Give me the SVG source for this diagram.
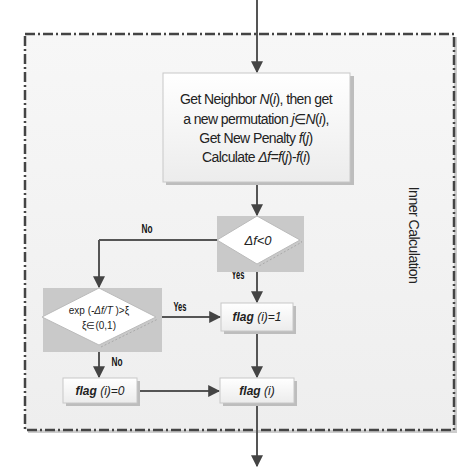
<svg xmlns="http://www.w3.org/2000/svg" width="461" height="468" viewBox="0 0 461 468">
<defs>
<linearGradient id="bg" x1="0" y1="0" x2="0" y2="1">
<stop offset="0" stop-color="#f7f7f7"/><stop offset="1" stop-color="#eeeeee"/>
</linearGradient>
<linearGradient id="boxg" x1="0" y1="0" x2="0" y2="1">
<stop offset="0" stop-color="#ffffff"/><stop offset="1" stop-color="#ececec"/>
</linearGradient>
<marker id="ah" viewBox="0 0 10 10" refX="9" refY="5" markerWidth="6" markerHeight="6" orient="auto" markerUnits="strokeWidth">
<path d="M0,0 L10,5 L0,10 z" fill="#444"/>
</marker>
</defs>
<style>
.t{font-family:"Liberation Sans",Arial,sans-serif;fill:#222;text-anchor:middle;dominant-baseline:central}
.m{font-size:14px;letter-spacing:-0.6px}
.i{font-style:italic}
.lb{font-size:12px;font-weight:bold;fill:#111}
.box{fill:url(#boxg);stroke:#c8c8c8;stroke-width:1}
.sh{fill:#bdbdbd}
.dia{fill:#ffffff;stroke:#bbbbbb;stroke-width:1}
.gr{fill:#c9c9c9}
.c{fill:none;stroke:#555;stroke-width:2;marker-end:url(#ah)}
.cl{fill:none;stroke:#555;stroke-width:2}
</style>
<rect width="461" height="468" fill="#ffffff"/>
<g id="frame">
<rect x="28" y="37" width="429" height="396" fill="#cccccc"/>
<rect x="25" y="34" width="429" height="396" fill="url(#bg)" stroke="#444" stroke-width="2.5" stroke-dasharray="10,3,2,3"/>
<text class="t" font-size="14" transform="translate(414,235) rotate(90)" letter-spacing="-0.5">Inner Calculation</text>
</g>
<g id="connectors">
<path class="c" d="M257,0 V72"/>
<path class="c" d="M257,183 V215"/>
<path class="cl" d="M217,240 H99"/>
<path class="c" d="M99,240 V287"/>
<path class="c" d="M257,265 V302"/>
<path class="c" d="M156,317 H220"/>
<path class="c" d="M99,346 V377"/>
<path class="c" d="M137,391 H219"/>
<path class="c" d="M257,332 V377"/>
<path class="c" d="M257,404 V466"/>
<text class="t lb" x="147" y="229" textLength="11" lengthAdjust="spacingAndGlyphs">No</text>
<text class="t lb" x="238" y="275" textLength="13" lengthAdjust="spacingAndGlyphs">Yes</text>
<text class="t lb" x="180" y="307" textLength="13" lengthAdjust="spacingAndGlyphs">Yes</text>
<text class="t lb" x="117" y="362" textLength="11" lengthAdjust="spacingAndGlyphs">No</text>
</g>
<g id="n1">
<rect class="sh" x="166" y="76" width="188" height="109"/>
<rect class="box" x="163" y="73" width="187" height="109"/>
<text class="t m" x="256" y="99">Get Neighbor <tspan class="i">N</tspan>(<tspan class="i">i</tspan>), then get</text>
<text class="t m" x="256" y="119">a new permutation <tspan class="i">j</tspan>∈<tspan class="i">N</tspan>(<tspan class="i">i</tspan>),</text>
<text class="t m" x="256" y="138">Get New Penalty <tspan class="i">f</tspan>(<tspan class="i">j</tspan>)</text>
<text class="t m" x="256" y="157">Calculate <tspan class="i">Δf=f</tspan>(<tspan class="i">j</tspan>)-<tspan class="i">f</tspan>(<tspan class="i">i</tspan>)</text>
</g>
<g id="n2">
<rect class="gr" x="217" y="216" width="87" height="56"/>
<path d="M259,218 L302,242 L259,266" fill="none" stroke="#aaaaaa" stroke-dasharray="2,2"/>
<path class="dia" d="M257,216 L300,240 L257,264 L217,240 z"/>
<text class="t i" font-size="13" x="258" y="240">Δf&lt;0</text>
</g>
<g id="n3">
<rect class="gr" x="43" y="288" width="119" height="64"/>
<path d="M101,347 L158,319" fill="none" stroke="#aaaaaa" stroke-dasharray="2,2"/>
<path class="dia" d="M99,288 L156,317 L99,345 L42,317 z"/>
<text class="t" font-size="10" x="99" y="310">exp (<tspan class="i">-Δf/T</tspan> )&gt;ξ</text>
<text class="t" font-size="10" x="99" y="325">ξ∈(0,1)</text>
</g>
<g id="n4">
<rect class="sh" x="224" y="306" width="72" height="28"/>
<rect class="box" x="221" y="303" width="72" height="28"/>
<text class="t i" font-size="12" x="257" y="317"><tspan font-weight="bold">flag</tspan>  (<tspan>i</tspan>)=1</text>
</g>
<g id="n5">
<rect class="sh" x="66" y="381" width="74" height="25"/>
<rect class="box" x="63" y="378" width="74" height="25"/>
<text class="t i" font-size="12" x="100" y="391"><tspan font-weight="bold">flag</tspan>  (<tspan>i</tspan>)=0</text>
</g>
<g id="n6">
<rect class="sh" x="223" y="381" width="74" height="25"/>
<rect class="box" x="220" y="378" width="74" height="25"/>
<text class="t i" font-size="12" x="257" y="391"><tspan font-weight="bold">flag</tspan>  (<tspan>i</tspan>)</text>
</g>
</svg>
